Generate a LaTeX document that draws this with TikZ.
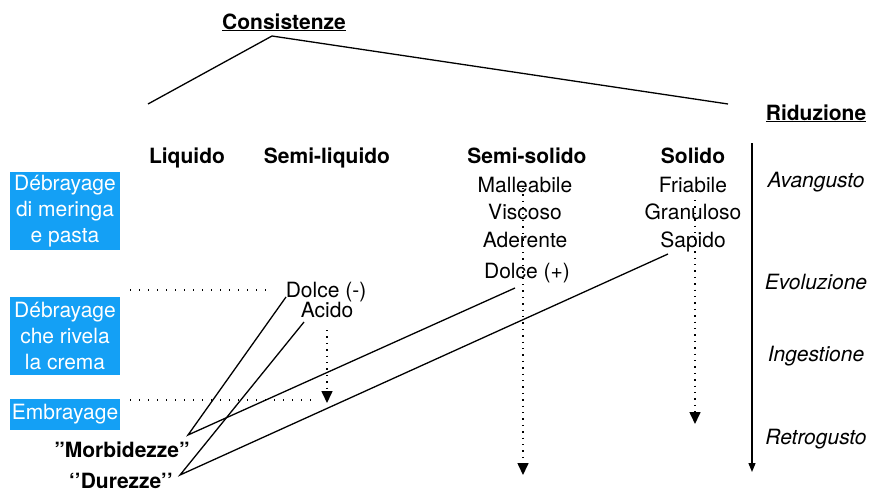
\documentclass[tikz,border=0pt]{standalone}
\usepackage{fontspec}
\setmainfont{TeX Gyre Heros}
\usetikzlibrary{arrows.meta}
\definecolor{boxblue}{RGB}{20,160,245}
\tikzset{
  txt/.style={anchor=base, inner sep=0pt, font=\fontsize{21}{26}\selectfont},
  bld/.style={txt, font=\fontsize{21}{26}\selectfont\bfseries},
  itl/.style={txt, font=\fontsize{21}{26}\selectfont\itshape},
  bluebox/.style={fill=boxblue, text=white, inner sep=0pt, minimum width=110pt, align=center, font=\fontsize{21}{26}\selectfont},
  conn/.style={line width=1.3pt},
  dotl/.style={line width=1.6pt, dash pattern=on 1.4pt off 7.6pt},
  dotv/.style={line width=1.6pt, dash pattern=on 1.4pt off 5pt, -{Triangle[width=11pt,length=12pt]}},
}
\begin{document}
\begin{tikzpicture}[x=1pt,y=-1pt]
\useasboundingbox (0,0) rectangle (870,493);
% title
\node[bld] (cons) at (284,29) {\underline{Consistenze}};
\node[bld] (rid) at (816,120) {\underline{Riduzione}};
\coordinate (top) at (272,36);
\coordinate (lend) at (148,104);
\coordinate (rend) at (728,104);
\draw[conn] (lend) -- (top) -- (rend);
% headers
\node[bld] (liq) at (187,163) {Liquido};
\node[bld] (sliq) at (327,163) {Semi-liquido};
\node[bld] (ssol) at (527,163) {Semi-solido};
\node[bld] (sol) at (693,163) {Solido};
% semi-solido column
\node[txt] (mall) at (525,192) {Malleabile};
\node[txt] (visc) at (525,219) {Viscoso};
\node[txt] (ader) at (525,247) {Aderente};
\node[txt] (dolp) at (527,278) {Dolce (+)};
% solido column
\node[txt] (fria) at (693,192) {Friabile};
\node[txt] (gran) at (693,219) {Granuloso};
\node[txt] (sapi) at (693,247) {Sapido};
% semi-liquido
\node[txt] (dolm) at (326,297) {Dolce (-)};
\node[txt] (acid) at (327,317) {Acido};
% right axis
\coordinate (axtop) at (752,143);
\coordinate (axbot) at (752,472);
\draw[line width=1.3pt, -{Triangle[width=7pt,length=9pt]}] (axtop) -- (axbot);
\node[itl] (avan) at (816,187) {Avangusto};
\node[itl] (evol) at (816,289) {Evoluzione};
\node[itl] (inge) at (816,361) {Ingestione};
\node[itl] (retr) at (816,444) {Retrogusto};
% blue boxes
\node[bluebox, minimum height=78pt] (b1) at (65,211) {Débrayage\\di meringa\\e pasta};
\node[bluebox, minimum height=78pt] (b2) at (65,336) {Débrayage\\che rivela\\la crema};
\node[bluebox, minimum height=31pt] (b3) at (65,414) {Embrayage};
% bottom labels
\node[bld] (morb) at (122,457) {”Morbidezze”};
\node[bld] (dure) at (121,488) {‘’Durezze’’};
% dotted horizontals
\coordinate (d1a) at (130,290);
\coordinate (d1b) at (270,290);
\coordinate (d2a) at (130,400);
\coordinate (d2b) at (312,400);
\draw[dotl] (d1a) -- (d1b);
\draw[dotl] (d2a) -- (d2b);
% dotted arrows
\coordinate (v1a) at (327,330);
\coordinate (v1b) at (327,403);
\coordinate (v2a) at (523,188);
\coordinate (v2b) at (523,475);
\coordinate (v3a) at (695,200);
\coordinate (v3b) at (695,424);
\draw[dotv] (v1a) -- (v1b);
\draw[dotv] (v2a) -- (v2b);
\draw[dotv] (v3a) -- (v3b);
% connectors
\coordinate (mj) at (188,435);
\coordinate (dj) at (180,475);
\coordinate (dolmE) at (286,297);
\coordinate (dolpE) at (515,288);
\coordinate (acidE) at (304,322);
\coordinate (sapiE) at (668,254);
\draw[conn] (dolmE) -- (mj) -- (dolpE);
\draw[conn] (acidE) -- (dj) -- (sapiE);
\end{tikzpicture}
\end{document}
